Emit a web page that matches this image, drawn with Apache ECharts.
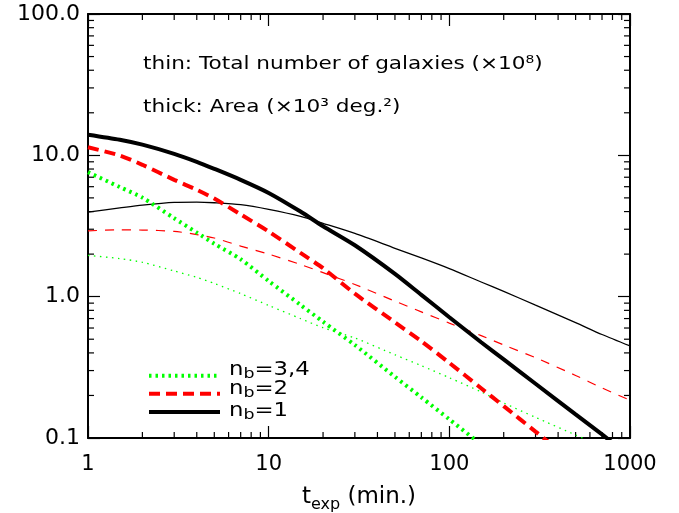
<!DOCTYPE html>
<html>
<head>
<meta charset="utf-8">
<script src="https://cdn.jsdelivr.net/npm/echarts@6/dist/echarts.min.js"></script>
<style>html,body{margin:0;padding:0;background:#fff;}#c{width:679px;height:513px;}</style>
</head>
<body>
<div id="c"></div>
<script>
// exposure time (min.)
const tExp = [1, 1.5, 2, 3, 4, 5, 7, 10, 15, 20, 30, 50, 70, 100, 150, 200, 300, 500, 700, 1000];
// thick: Area (x10^3 deg^2)
const areaNb1  = [14.0, 12.9, 11.9, 10.25, 9.0, 8.03, 6.71, 5.42, 4.0, 3.15, 2.31, 1.45, 1.03, 0.715, 0.476, 0.36, 0.242, 0.147, 0.106, 0.074];
const areaNb2  = [11.4, 9.98, 8.57, 6.71, 5.7, 4.94, 3.82, 2.89, 2.04, 1.59, 1.05, 0.658, 0.484, 0.34, 0.225, 0.168, 0.111, 0.066, null, null];
const areaNb34 = [7.6, 5.96, 5.02, 3.59, 2.84, 2.37, 1.84, 1.29, 0.875, 0.665, 0.455, 0.271, 0.194, 0.1355, 0.09, null, null, null, null, null];
// thin: Total number of galaxies (x10^8)
const galNb1  = [3.97, 4.25, 4.45, 4.65, 4.67, 4.62, 4.48, 4.15, 3.7, 3.3, 2.8, 2.2, 1.88, 1.58, 1.27, 1.09, 0.87, 0.655, 0.54, 0.448];
const galNb2  = [2.92, 2.97, 2.96, 2.9, 2.75, 2.6, 2.28, 2.0, 1.69, 1.48, 1.22, 0.93, 0.78, 0.65, 0.53, 0.455, 0.37, 0.277, 0.226, 0.185];
const galNb34 = [1.96, 1.86, 1.75, 1.52, 1.37, 1.24, 1.05, 0.867, 0.70, 0.603, 0.51, 0.388, 0.325, 0.267, 0.212, 0.177, 0.14, 0.105, 0.087, 0.072];
// legend entries (n_b values)
const legendNames = ['n_b=3,4', 'n_b=2', 'n_b=1'];
// axis ticks
const xTickLabels = {1: '1', 10: '10', 100: '100', 1000: '1000'};
const yTickLabels = {0.1: '0.1', 1: '1.0', 10: '10.0', 100: '100.0'};
const xMinorTicks = [];
[1, 10, 100].forEach(d => { for (let m = 2; m <= 9; m++) xMinorTicks.push(+(d * m).toPrecision(3)); });
const yMinorTicks = [];
[0.1, 1, 10].forEach(d => { for (let m = 2; m <= 9; m++) yMinorTicks.push(+(d * m).toPrecision(3)); });

const XMIN = 1, XMAX = 1000, YMIN = 0.1, YMAX = 100;
const FONT = 'DejaVu Sans';

function pairs(ys) {
  const out = [];
  tExp.forEach((x, i) => { if (ys[i] != null) out.push([x, ys[i]]); });
  return out;
}

const GREEN = '#00ff00', RED = '#ff0000', BLACK = '#000000';

const chart = echarts.init(document.getElementById('c'), null, {renderer: 'canvas'});

function lineSeries(name, data, color, width, dash) {
  return {
    name: name, type: 'line', data: pairs(data), xAxisIndex: 0, yAxisIndex: 0,
    showSymbol: false, symbol: 'none', smooth: 0.25, clip: true,
    lineStyle: {color: color, width: width, type: dash, cap: 'butt'},
    itemStyle: {color: color},
    emphasis: {disabled: true}, silent: true, animation: false
  };
}

const legendRich = {
  n: {fontFamily: FONT, fontSize: 19, lineHeight: 20, verticalAlign: 'top', color: '#000'},
  s: {fontFamily: FONT, fontSize: 14.5, lineHeight: 20, verticalAlign: 'top', padding: [6, 0, 0, 0], color: '#000'}
};
const legendLabelTops = [360.3, 379.8, 401.3];
const legendTexts = legendNames.map((name, i) => ({
  type: 'text', x: 229, y: legendLabelTops[i], scaleX: 1.2, silent: true,
  style: {text: '{n|n}{s|b}{n|=' + name.split('=')[1] + '}', rich: legendRich, verticalAlign: 'top', fontFamily: FONT, fontSize: 19}
}));

const option = {
  animation: false,
  backgroundColor: '#ffffff',
  grid: {left: 88, right: 49, top: 14, bottom: 75, containLabel: false, outerBoundsMode: 'none'},
  legend: {
    data: legendNames,
    orient: 'vertical', left: 142, top: 363.7,
    itemWidth: 71, itemHeight: 14, itemGap: 5.5,
    selectedMode: false,
    itemStyle: {color: 'rgba(0,0,0,0)', borderWidth: 0, opacity: 0},
    lineStyle: {width: 4},
    formatter: () => '',
    textStyle: {fontSize: 10}
  },
  xAxis: [{
    type: 'log', logBase: 10, min: XMIN, max: XMAX, position: 'bottom',
    axisLine: {show: true, lineStyle: {color: '#000', width: 2}},
    axisTick: {show: true, inside: true, length: 12, lineStyle: {color: '#000', width: 1.2}},
    splitLine: {show: false},
    axisLabel: {show: true, margin: 16, color: '#000', fontFamily: FONT, fontSize: 21,
      formatter: v => xTickLabels[v] !== undefined ? xTickLabels[v] : ''},
    name: '{t|t}{s|exp}{t| (min.)}', nameLocation: 'middle', nameGap: 57,
    nameTextStyle: {
      rich: {
        t: {fontFamily: FONT, fontSize: 23, color: '#000', verticalAlign: 'bottom', padding: [0, 0, 4, 0], lineHeight: 18},
        s: {fontFamily: FONT, fontSize: 16, color: '#000', verticalAlign: 'bottom', lineHeight: 14}
      }
    }
  }, {
    type: 'log', logBase: 10, min: XMIN, max: XMAX, position: 'top',
    axisLine: {show: true, onZero: false, lineStyle: {color: '#000', width: 2}},
    axisTick: {show: true, inside: true, length: 12, lineStyle: {color: '#000', width: 1.2}},
    axisLabel: {show: false}, splitLine: {show: false}
  }],
  yAxis: [{
    type: 'log', logBase: 10, min: YMIN, max: YMAX, position: 'left',
    axisLine: {show: true, lineStyle: {color: '#000', width: 2}},
    axisTick: {show: true, inside: true, length: 12, lineStyle: {color: '#000', width: 1.2}},
    splitLine: {show: false},
    axisLabel: {show: true, margin: 8, color: '#000', fontFamily: FONT, fontSize: 22,
      formatter: v => {
        const k = Object.keys(yTickLabels).find(key => Math.abs(Math.log10(+key) - Math.log10(v)) < 1e-6);
        return k !== undefined ? yTickLabels[k] : '';
      }}
  }, {
    type: 'log', logBase: 10, min: YMIN, max: YMAX, position: 'right',
    axisLine: {show: true, onZero: false, lineStyle: {color: '#000', width: 2}},
    axisTick: {show: true, inside: true, length: 12, lineStyle: {color: '#000', width: 1.2}},
    axisLabel: {show: false}, splitLine: {show: false}
  }],
  graphic: [{
    type: 'text', x: 143, y: 55, scaleX: 1.2, silent: true,
    style: {text: 'thin: Total number of galaxies (×10⁸)', fontFamily: FONT, fontSize: 18, fill: '#000'}
  }, {
    type: 'text', x: 143, y: 98, scaleX: 1.2, silent: true,
    style: {text: 'thick: Area (×10³ deg.²)', fontFamily: FONT, fontSize: 18, fill: '#000'}
  }].concat(legendTexts),
  series: [
    lineSeries('gal_nb34', galNb34, GREEN, 1.3, [1.5, 4.5]),
    lineSeries('gal_nb2', galNb2, RED, 1.2, [9, 8]),
    lineSeries('gal_nb1', galNb1, BLACK, 1.3, 'solid'),
    lineSeries('n_b=3,4', areaNb34, GREEN, 4, [2.5, 4]),
    lineSeries('n_b=2', areaNb2, RED, 4, [11, 6]),
    lineSeries('n_b=1', areaNb1, BLACK, 4, 'solid'),
    {
      name: 'xminor', type: 'custom', xAxisIndex: 0, yAxisIndex: 0, silent: true, clip: false,
      data: xMinorTicks.map(v => [v, YMIN]),
      renderItem: function (params, api) {
        const v = api.value(0);
        const b = api.coord([v, YMIN]);
        const t = api.coord([v, YMAX]);
        return {type: 'group', children: [
          {type: 'line', shape: {x1: b[0], y1: b[1], x2: b[0], y2: b[1] - 6}, style: {stroke: '#000', lineWidth: 1.2}},
          {type: 'line', shape: {x1: t[0], y1: t[1], x2: t[0], y2: t[1] + 6}, style: {stroke: '#000', lineWidth: 1.2}}
        ]};
      }
    },
    {
      name: 'yminor', type: 'custom', xAxisIndex: 0, yAxisIndex: 0, silent: true, clip: false,
      data: yMinorTicks.map(v => [XMIN, v]),
      renderItem: function (params, api) {
        const v = api.value(1);
        const l = api.coord([XMIN, v]);
        const r = api.coord([XMAX, v]);
        return {type: 'group', children: [
          {type: 'line', shape: {x1: l[0], y1: l[1], x2: l[0] + 6, y2: l[1]}, style: {stroke: '#000', lineWidth: 1.2}},
          {type: 'line', shape: {x1: r[0], y1: r[1], x2: r[0] - 6, y2: r[1]}, style: {stroke: '#000', lineWidth: 1.2}}
        ]};
      }
    }
  ]
};
chart.setOption(option);
</script>
</body>
</html>
